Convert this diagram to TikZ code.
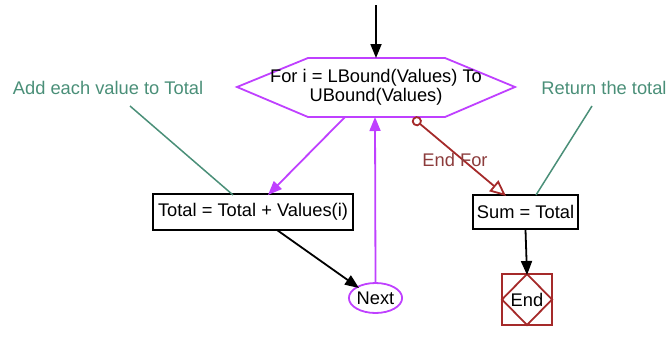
\documentclass[tikz,border=0pt]{standalone}
\usepackage{fontspec}
\setmainfont{Liberation Sans}
\usetikzlibrary{shapes.geometric,arrows.meta}
\definecolor{vio}{HTML}{BF40FF}
\definecolor{dred}{HTML}{A52A2A}
\definecolor{lred}{HTML}{8C3C3C}
\definecolor{teal2}{HTML}{4A8F78}
\tikzset{
  txt/.style={font=\fontsize{18.3}{19.5}\selectfont},
  procbox/.style={draw=black, line width=1.8pt, fill=white, inner sep=0pt, txt},
  comment/.style={text=teal2, txt, inner sep=0pt},
  cline/.style={draw=teal2, line width=1.5pt},
  flow/.style={draw=black, line width=1.8pt, -{Triangle[length=14pt,width=11pt]}},
  vflow/.style={draw=vio, line width=1.8pt, -{Triangle[length=14pt,width=11pt]}},
}
\begin{document}
\begin{tikzpicture}[x=1pt,y=-1pt]
\useasboundingbox (0,0) rectangle (668,338);
% hexagon
\draw[vio, line width=1.8pt] (237,87) -- (308,58) -- (445,58) -- (515,87) -- (445,117) -- (308,117) -- cycle;
\coordinate (hextop) at (376,58);
\coordinate (hexbl) at (345,117);
\coordinate (hexb) at (375,117);
\coordinate (hexbr) at (413,118);
\node[txt, align=center] (hex) at (376,87.5) {For i = LBound(Values) To\\UBound(Values)};
\coordinate (start) at (376,5);
\draw[flow] (start) -- (hextop);
% boxes
\node[procbox, minimum width=200pt, minimum height=36pt] (tot) at (253,212) {Total = Total + Values(i)};
\node[procbox, minimum width=105pt, minimum height=34pt] (sum) at (525.5,212) {Sum = Total};
\node[draw=vio, line width=1.8pt, ellipse, minimum width=51pt, minimum height=30pt, inner sep=0pt, txt] (next) at (375.5,298) {Next};
% end
\draw[dred, line width=1.8pt] (502,274) rectangle (552,325);
\draw[dred, line width=1.8pt] (527,274) -- (552,299.5) -- (527,325) -- (502,299.5) -- cycle;
\node[txt] (endn) at (527,299.5) {End};
\coordinate (endtop) at (527,275);
% arrows
\draw[vflow] (hexbl) -- (268,195);
\draw[flow] (277,230) -- (359,288);
\draw[vflow] (next.north) -- (hexb);
\draw[flow] (sum.south) -- (endtop);
\draw[dred, line width=1.8pt, {Circle[open,length=10pt,width=10pt]}-{Triangle[open,length=16pt,width=14pt]}] (hexbr) -- (506,196);
\node[text=lred, txt, inner sep=0pt] (endfor) at (455,160) {End For};
% comments
\node[comment] (c1) at (108,88) {Add each value to Total};
\node[comment] (c2) at (604,88) {Return the total};
\draw[cline] (130,106) -- (233,195);
\draw[cline] (592,106) -- (536,195);
\end{tikzpicture}
\end{document}
